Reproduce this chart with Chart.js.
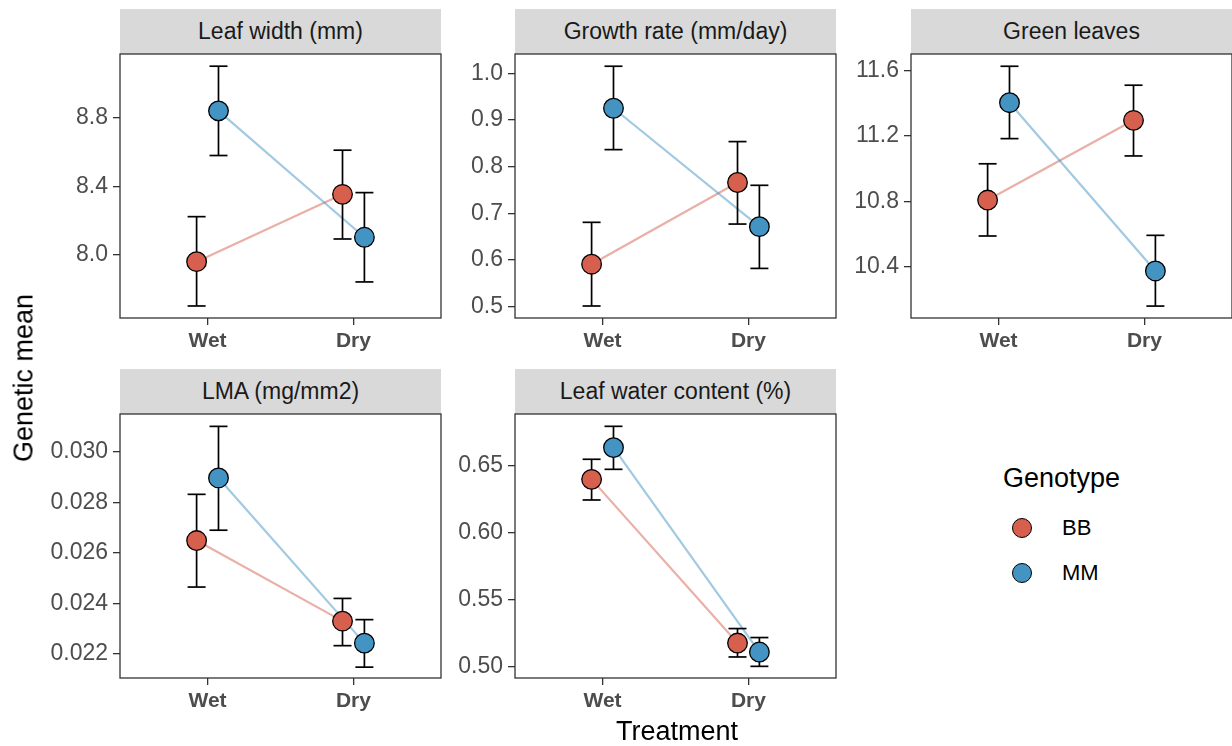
<!DOCTYPE html>
<html>
<head>
<meta charset="utf-8">
<script src="https://cdn.jsdelivr.net/npm/chart.js@4.4.1/dist/chart.umd.min.js"></script>
<style>
  html, body { margin: 0; padding: 0; background: #fff; }
  #page { position: relative; width: 1232px; height: 746px; overflow: hidden;
          font-family: "Liberation Sans", Arial, sans-serif; }
  .strip { position: absolute; background: #d9d9d9; color: #1a1a1a; font-size: 23px;
           display: flex; align-items: center; justify-content: center; }
  .panel { position: absolute; }
  .title { position: absolute; color: #000; font-size: 27px; white-space: nowrap;
           transform: translate(-50%, -50%); }
  .lg-text { position: absolute; color: #000; white-space: nowrap; transform: translateY(-50%); }
  .lg-dot { position: absolute; width: 18px; height: 18px; border-radius: 50%;
            border: 1.5px solid #000; transform: translate(-50%, -50%); }
</style>
</head>
<body>
<div id="page"></div>
<script>
"use strict";

/* ── data ── */
const panelNames = ["Leaf width (mm)", "Growth rate (mm/day)", "Green leaves", "LMA (mg/mm2)", "Leaf water content (%)"];
const treatments = ["Wet", "Dry"];
const genotypes = ["BB", "MM"];

// per panel: [Wet, Dry]
const bbMean = [[7.961, 8.353], [0.591, 0.766], [10.808, 11.296], [0.02649, 0.0233], [0.6398, 0.5176]];
const bbLow  = [[7.703, 8.093], [0.5015, 0.677], [10.588, 11.078], [0.02465, 0.02233], [0.6244, 0.5072]];
const bbHigh = [[8.223, 8.610], [0.6807, 0.8536], [11.030, 11.511], [0.02832, 0.0242], [0.6548, 0.5284]];
const mmMean = [[8.839, 8.103], [0.925, 0.6714], [11.404, 10.374], [0.02897, 0.02243], [0.6635, 0.5109]];
const mmLow  = [[8.579, 7.843], [0.8364, 0.582], [11.184, 10.159], [0.0269, 0.02148], [0.6473, 0.5002]];
const mmHigh = [[9.099, 8.363], [1.015, 0.760], [11.627, 10.592], [0.03101, 0.02336], [0.6794, 0.5217]];

const yTicks = [
  [8.0, 8.4, 8.8],
  [0.5, 0.6, 0.7, 0.8, 0.9, 1.0],
  [10.4, 10.8, 11.2, 11.6],
  [0.022, 0.024, 0.026, 0.028, 0.030],
  [0.50, 0.55, 0.60, 0.65],
];
const yTickLabels = [
  ["8.0", "8.4", "8.8"],
  ["0.5", "0.6", "0.7", "0.8", "0.9", "1.0"],
  ["10.4", "10.8", "11.2", "11.6"],
  ["0.022", "0.024", "0.026", "0.028", "0.030"],
  ["0.50", "0.55", "0.60", "0.65"],
];
const yLimits = [[7.633, 9.170], [0.4758, 1.0412], [10.086, 11.702], [0.02105, 0.0315], [0.4915, 0.6886]];

/* ── layout ── */
const colLeft = [120, 515, 911];
const rowTop = [54, 414];
const plotW = 321;
const plotH = 263.5;
const stripH = 45;
const dodge = 0.075;

const colBB = "#d6604d";
const colMM = "#4393c3";
const lineBB = "rgba(214,96,77,0.5)";
const lineMM = "rgba(67,147,195,0.5)";
const FONT = "'Liberation Sans', Arial, sans-serif";

const page = document.getElementById("page");

const framePlugin = {
  id: "frame",
  afterDatasetsDraw(chart) {
    const { ctx, chartArea: a } = chart;
    ctx.save();
    ctx.strokeStyle = "#333333";
    ctx.lineWidth = 1.3;
    ctx.strokeRect(a.left, a.top, a.right - a.left, a.bottom - a.top);
    ctx.restore();
  },
};

function noPad(s) {
  s.paddingLeft = 0; s.paddingRight = 0; s.paddingTop = 0; s.paddingBottom = 0;
}

function errData(low, high, off) {
  const out = [];
  treatments.forEach((t, j) => {
    const x = j + 1 + off;
    out.push({ x, y: low[j] }, { x, y: high[j] }, { x, y: null });
  });
  return out;
}

function meanData(mean, off) {
  return treatments.map((t, j) => ({ x: j + 1 + off, y: mean[j] }));
}

function makePanel(i) {
  const left = colLeft[i % 3];
  const top = rowTop[Math.floor(i / 3)];
  const L = 100, T = 4, R = 4, B = 45;

  const strip = document.createElement("div");
  strip.className = "strip";
  strip.style.left = left + "px";
  strip.style.top = (top - stripH) + "px";
  strip.style.width = plotW + "px";
  strip.style.height = stripH + "px";
  strip.textContent = panelNames[i];
  page.appendChild(strip);

  const cv = document.createElement("canvas");
  cv.className = "panel";
  const w = L + plotW + R, h = Math.round(T + plotH + B);
  cv.width = w; cv.height = h;
  cv.style.left = (left - L) + "px";
  cv.style.top = (top - T) + "px";
  cv.style.width = w + "px"; cv.style.height = h + "px";
  page.appendChild(cv);

  new Chart(cv, {
    type: "scatter",
    data: {
      datasets: [
        { data: meanData(mmMean[i], dodge), pointRadius: 9.8, pointBackgroundColor: colMM,
          pointBorderColor: "#000", pointBorderWidth: 1.3, showLine: false, order: 0 },
        { data: meanData(bbMean[i], -dodge), pointRadius: 9.8, pointBackgroundColor: colBB,
          pointBorderColor: "#000", pointBorderWidth: 1.3, showLine: false, order: 0 },
        { data: errData(mmLow[i], mmHigh[i], dodge), showLine: true, spanGaps: false,
          borderColor: "#000", borderWidth: 1.7, pointStyle: "line", pointRadius: 9,
          pointBorderColor: "#000", pointBorderWidth: 1.7, order: 1 },
        { data: errData(bbLow[i], bbHigh[i], -dodge), showLine: true, spanGaps: false,
          borderColor: "#000", borderWidth: 1.7, pointStyle: "line", pointRadius: 9,
          pointBorderColor: "#000", pointBorderWidth: 1.7, order: 1 },
        { data: meanData(mmMean[i], dodge), showLine: true, borderColor: lineMM,
          borderWidth: 2.2, pointRadius: 0, order: 2 },
        { data: meanData(bbMean[i], -dodge), showLine: true, borderColor: lineBB,
          borderWidth: 2.2, pointRadius: 0, order: 2 },
      ],
    },
    options: {
      responsive: false,
      animation: false,
      events: [],
      layout: { autoPadding: false, padding: { left: 0, top: T, right: R, bottom: 0 } },
      plugins: { legend: { display: false }, tooltip: { enabled: false } },
      scales: {
        x: {
          type: "linear",
          min: 0.4,
          max: 2.6,
          afterFit: (s) => { s.height = B; noPad(s); },
          afterBuildTicks: (s) => { s.ticks = treatments.map((t, j) => ({ value: j + 1 })); },
          grid: { display: true, drawOnChartArea: false, drawTicks: true, tickLength: 7, color: "#333333", lineWidth: 1.3 },
          border: { display: false },
          ticks: {
            autoSkip: false,
            maxRotation: 0,
            padding: 4,
            color: "#4d4d4d",
            font: { family: FONT, size: 21, weight: "bold" },
            callback: (v) => treatments[Math.round(v) - 1],
          },
        },
        y: {
          min: yLimits[i][0],
          max: yLimits[i][1],
          afterFit: (s) => { s.width = L; noPad(s); },
          afterBuildTicks: (s) => { s.ticks = yTicks[i].map((v) => ({ value: v })); },
          grid: { display: true, drawOnChartArea: false, drawTicks: true, tickLength: 7, color: "#333333", lineWidth: 1.3 },
          border: { display: false },
          ticks: {
            autoSkip: false,
            padding: 5,
            color: "#4d4d4d",
            font: { family: FONT, size: 23 },
            callback: (v, idx) => yTickLabels[i][idx],
          },
        },
      },
    },
    plugins: [framePlugin],
  });
}

panelNames.forEach((n, i) => makePanel(i));

/* ── axis titles ── */
function addText(cls, txt, x, y, extra) {
  const d = document.createElement("div");
  d.className = cls;
  d.textContent = txt;
  d.style.left = x + "px";
  d.style.top = y + "px";
  if (extra) Object.assign(d.style, extra);
  page.appendChild(d);
  return d;
}
addText("title", "Treatment", 677, 731);
addText("title", "Genetic mean", 24, 378, { transform: "translate(-50%, -50%) rotate(-90deg)" });

/* ── legend ── */
addText("lg-text", "Genotype", 1003, 478, { fontSize: "27px" });
const lgColors = [colBB, colMM];
genotypes.forEach((g, k) => {
  const cy = 528 + k * 44.5;
  const dot = document.createElement("div");
  dot.className = "lg-dot";
  dot.style.left = "1022px";
  dot.style.top = cy + "px";
  dot.style.background = lgColors[k];
  page.appendChild(dot);
  addText("lg-text", g, 1062, cy, { fontSize: "22px" });
});
</script>
</body>
</html>
